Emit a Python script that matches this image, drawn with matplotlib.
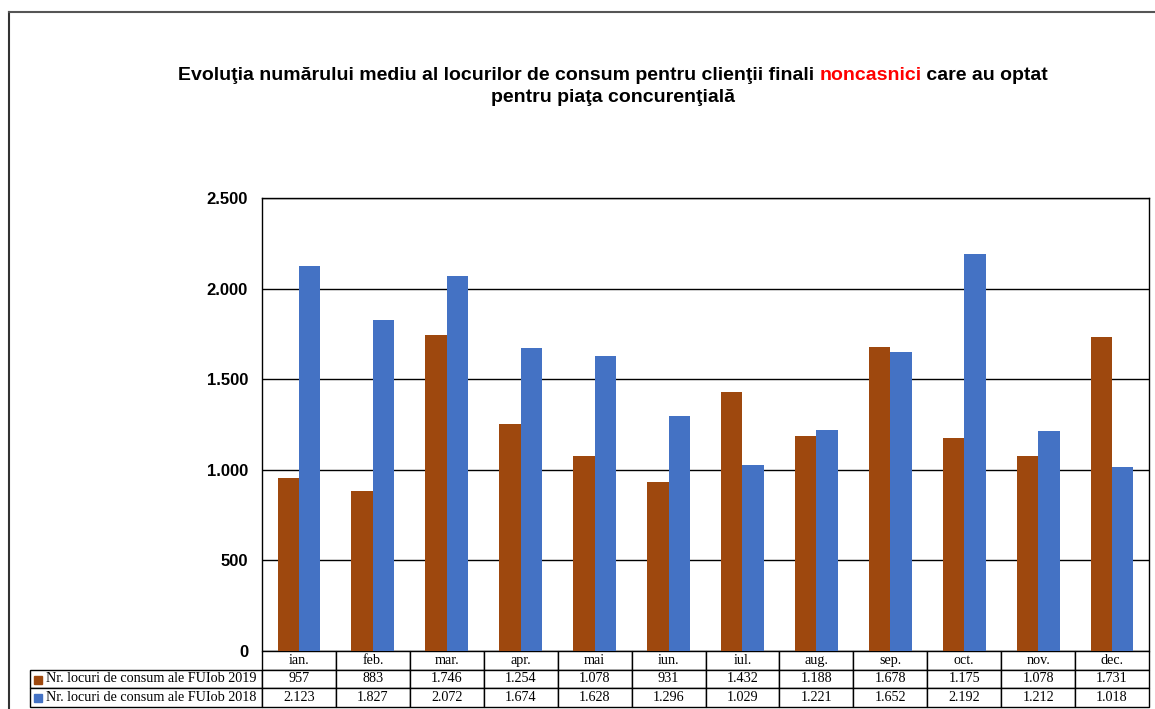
import numpy as np
import matplotlib
matplotlib.use("Agg")
import matplotlib.pyplot as plt
from matplotlib.patches import Rectangle
from matplotlib.lines import Line2D

months = ["ian.", "feb.", "mar.", "apr.", "mai", "iun.", "iul.", "aug.", "sep.", "oct.", "nov.", "dec."]
v2019 = [957, 883, 1746, 1254, 1078, 931, 1432, 1188, 1678, 1175, 1078, 1731]
v2018 = [2123, 1827, 2072, 1674, 1628, 1296, 1029, 1221, 1652, 2192, 1212, 1018]
label2019 = "Nr. locuri de consum ale FUIob 2019"
label2018 = "Nr. locuri de consum ale FUIob 2018"
c2019 = "#9E480E"
c2018 = "#4472C4"

W, H = 1155, 709
fig = plt.figure(figsize=(W / 100, H / 100), dpi=100)

# plot area in pixels
L, R, T, B = 262, 1149, 198, 651
ax = fig.add_axes([L / W, 1 - B / H, (R - L) / W, (B - T) / H])

x = np.arange(len(months))
bw = 0.29
ax.bar(x - 0.145, v2019, bw, color=c2019, zorder=3)
ax.bar(x + 0.145, v2018, bw, color=c2018, zorder=3)

ax.set_xlim(-0.5, 11.5)
ax.set_ylim(0, 2500)
yt = np.arange(0, 2501, 500)
ax.set_yticks(yt)
ax.set_yticklabels([f"{v:,}".replace(",", ".") for v in yt], fontsize=12,
                   fontweight="bold", family="Liberation Sans")
ax.tick_params(axis="y", length=0, pad=10)
ax.set_xticks([])
ax.grid(axis="y", color="black", lw=1, zorder=1)
for s in ["left", "top", "right"]:
    ax.spines[s].set_color("black")
    ax.spines[s].set_linewidth(1)
ax.spines["bottom"].set_visible(False)

fmt = lambda v: f"{v:,}".replace(",", ".")
rows = [[""] + months,
        ["    " + label2019] + [fmt(v) for v in v2019],
        ["    " + label2018] + [fmt(v) for v in v2018]]
lab_w = L - 30
col_w = (R - L) / 12
widths = [lab_w] + [col_w] * 12
tbl_h = 707 - B
tbl = ax.table(cellText=rows, colWidths=[w / (R - 30) for w in widths],
               bbox=[-lab_w / (R - L), -tbl_h / (B - T), (R - 30) / (R - L), tbl_h / (B - T)],
               cellLoc="center")
tbl.auto_set_font_size(False)
for (r, c), cell in tbl.get_celld().items():
    cell.set_fontsize(10.2)
    cell.get_text().set_family("Liberation Serif")
    cell.set_linewidth(1)
    if c == 0:
        cell.get_text().set_ha("left")
        cell._loc = "left"
        cell.PAD = 0.01
    if r == 0 and c == 0:
        cell.visible_edges = ""

# legend keys in table
for i, col in enumerate([c2019, c2018]):
    yc = 1 - (670 + 9.5 + i * 18.5) / H
    fig.patches.append(Rectangle((34 / W, yc - 4 / H), 8 / W, 8 / H, color=col,
                                 transform=fig.transFigure, figure=fig))

# title with red word
fig.canvas.draw()
rend = fig.canvas.get_renderer()
parts = [("Evoluţia numărului mediu al locurilor de consum pentru clienţii finali ", "black"),
         ("noncasnici", "red"),
         (" care au optat", "black")]
tprops = dict(fontsize=14, fontweight="bold", family="Liberation Sans")
texts = []
for s, col in parts:
    t = fig.text(0, 1 - 75 / H, s, color=col, va="center", ha="left", **tprops)
    texts.append(t)
widths_px = [t.get_window_extent(rend).width for t in texts]
xpos = 613 - sum(widths_px) / 2
for t, w in zip(texts, widths_px):
    t.set_x(xpos / W)
    xpos += w
fig.text(613 / W, 1 - 98 / H, "pentru piaţa concurenţială", ha="center", va="center", **tprops)

# outer frame
fig.lines.append(Line2D([9 / W, 9 / W], [0, 1 - 12 / H], color="#333333", lw=1.5,
                        transform=fig.transFigure, figure=fig))
fig.lines.append(Line2D([9 / W, 1], [1 - 12 / H, 1 - 12 / H], color="#555555", lw=1.5,
                        transform=fig.transFigure, figure=fig))

fig.savefig("out.png", dpi=100)
